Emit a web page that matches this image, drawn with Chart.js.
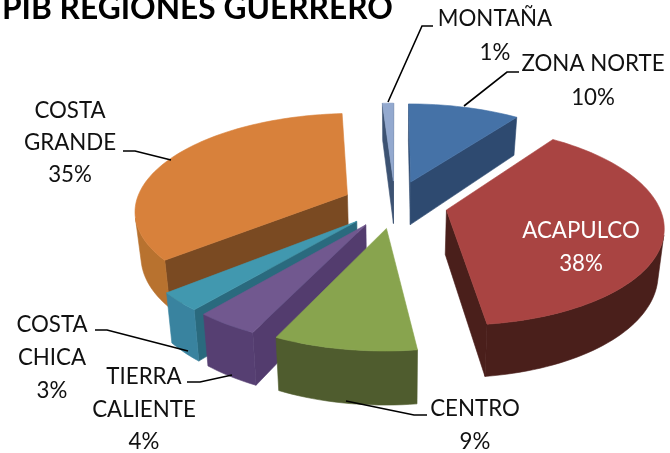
<!DOCTYPE html>
<html><head><meta charset="utf-8">
<style>html,body{margin:0;padding:0;background:#fff}canvas{display:block}</style>
<script src="https://cdn.jsdelivr.net/npm/chart.js@4"></script>
</head><body><canvas id="c" width="670" height="453"></canvas>
<script>
const chartTitle = 'PIB REGIONES GUERRERO';
const categories = ['ZONA NORTE','ACAPULCO','CENTRO','TIERRA CALIENTE','COSTA CHICA','COSTA GRANDE','MONTAÑA'];
const values = [10,38,9,4,3,35,1];

const topColors  = ['#4572a7','#a94442','#88a44e','#71588f','#4198af','#d8813b','#93a9cf'];
const wallColors = ['#2e4a70','#4a1f1b','#4f5c2e','#563f72','#39839f','#b8722f','#3c5272'];
const sideColors = ['#2e4a70','#4a1f1b','#4f5c2e','#533c6e','#2a6a7e','#7a4a22','#3c5272'];

const view = {cx:395, cy:204, rx:212, ry:96, persp:0.15, depth:44, shrink:0.977};
const labelFont = '22.3px Lato';
const labelLayout = [
  {i:0, x:593, y:[64,98], color:'#111', lead:[[519,72],[507,72],[464,106]]},
  {i:1, x:581, y:[231,264], color:'#fff', lines:['ACAPULCO']},
  {i:2, x:475, y:[409,442], color:'#111', lead:[[427,415],[414,415],[346,401]]},
  {i:3, x:144, y:[377,410,442], color:'#111', lines:['TIERRA','CALIENTE'], lead:[[187,382],[200,382],[232,375]]},
  {i:4, x:52,  y:[325,358,391], color:'#111', lines:['COSTA','CHICA'], lead:[[95,330],[107,330],[188,351]]},
  {i:5, x:70,  y:[111,143,175], color:'#111', lines:['COSTA','GRANDE'], lead:[[123,151],[135,151],[171,160]]},
  {i:6, x:495, y:[19,53], color:'#111', lead:[[433,26],[422,26],[388,102]]}
];

function project(X, Y){
  const w = 1/(1 - view.persp*Y);
  return {x:view.cx + view.rx*X*w, y:view.cy + view.ry*Y*w, w};
}
function lower(p){
  return {x:view.cx + (p.x-view.cx)*view.shrink, y:p.y + view.depth*p.w};
}
function fillPoly(ctx, pts, color){
  ctx.beginPath();
  pts.forEach((p,i)=> i ? ctx.lineTo(p.x,p.y) : ctx.moveTo(p.x,p.y));
  ctx.closePath();
  ctx.fillStyle = color; ctx.strokeStyle = color; ctx.lineWidth = 0.6;
  ctx.fill(); ctx.stroke();
}
function sliceOutline(el){
  const R = el.outerRadius, off = (el.options.offset||0)/R;
  const mid = (el.startAngle+el.endAngle)/2;
  const ox = off*Math.cos(mid), oy = off*Math.sin(mid);
  const pts = [project(ox,oy)];
  const n = Math.max(3, Math.ceil((el.endAngle-el.startAngle)/0.03));
  for(let k=0;k<=n;k++){
    const a = el.startAngle + (el.endAngle-el.startAngle)*k/n;
    pts.push(project(ox+Math.cos(a), oy+Math.sin(a)));
  }
  return pts;
}
function faces(a,b){
  const quad=[a,b,lower(b),lower(a)];
  let area=0;
  quad.forEach((q,j)=>{const r=quad[(j+1)%4]; area+=q.x*r.y-r.x*q.y;});
  return area<0;
}
const pie3d = {
  id:'pie3d',
  beforeDatasetsDraw(chart){
    const ctx = chart.ctx, arcs = chart.getDatasetMeta(0).data;
    const order = arcs.map((el,i)=>({el,i,pts:sliceOutline(el)}));
    order.forEach(o=>{ const p=o.pts; o.front = p[Math.floor(p.length/2)].y + p[0].y; });
    order.sort((a,b)=>a.front-b.front);
    ctx.save();
    order.forEach(o=>{
      const p = o.pts, N = p.length;
      [[0,1],[N-1,0]].forEach(([s,e])=>{
        if(faces(p[s],p[e])) fillPoly(ctx,[p[s],p[e],lower(p[e]),lower(p[s])],sideColors[o.i]);
      });
      let run=[];
      const flush=()=>{
        if(run.length>1) fillPoly(ctx,run.concat(run.slice().reverse().map(lower)),wallColors[o.i]);
        run=[];
      };
      for(let k=1;k<N-1;k++){
        if(faces(p[k],p[k+1])){ if(!run.length) run.push(p[k]); run.push(p[k+1]); }
        else flush();
      }
      flush();
      fillPoly(ctx, p, topColors[o.i]);
    });
    ctx.restore();
    return false;
  },
  afterDraw(chart){
    const ctx = chart.ctx;
    ctx.save();
    ctx.font = 'bold 31.7px Lato';
    ctx.fillStyle = '#000';
    ctx.textAlign='left'; ctx.textBaseline='alphabetic';
    ctx.fillText(chartTitle, 2, 19);
    ctx.font = labelFont;
    ctx.textAlign='center'; ctx.textBaseline='middle';
    labelLayout.forEach(l=>{
      const lines = (l.lines || [categories[l.i]]).concat(values[l.i]+'%');
      ctx.fillStyle = l.color;
      lines.forEach((t,j)=>ctx.fillText(t,l.x,l.y[j]));
      if(l.lead){
        ctx.beginPath();
        l.lead.forEach((p,j)=> j?ctx.lineTo(p[0],p[1]):ctx.moveTo(p[0],p[1]));
        ctx.strokeStyle='#000'; ctx.lineWidth=1.6; ctx.stroke();
      }
    });
    ctx.restore();
  }
};
new Chart(document.getElementById('c'),{
  type:'pie',
  data:{labels:categories,datasets:[{data:values,backgroundColor:topColors,offset:50,borderWidth:0}]},
  options:{responsive:false,animation:false,layout:{padding:0},
    plugins:{legend:{display:false},tooltip:{enabled:false},title:{display:false}}},
  plugins:[pie3d]
});
</script></body></html>
